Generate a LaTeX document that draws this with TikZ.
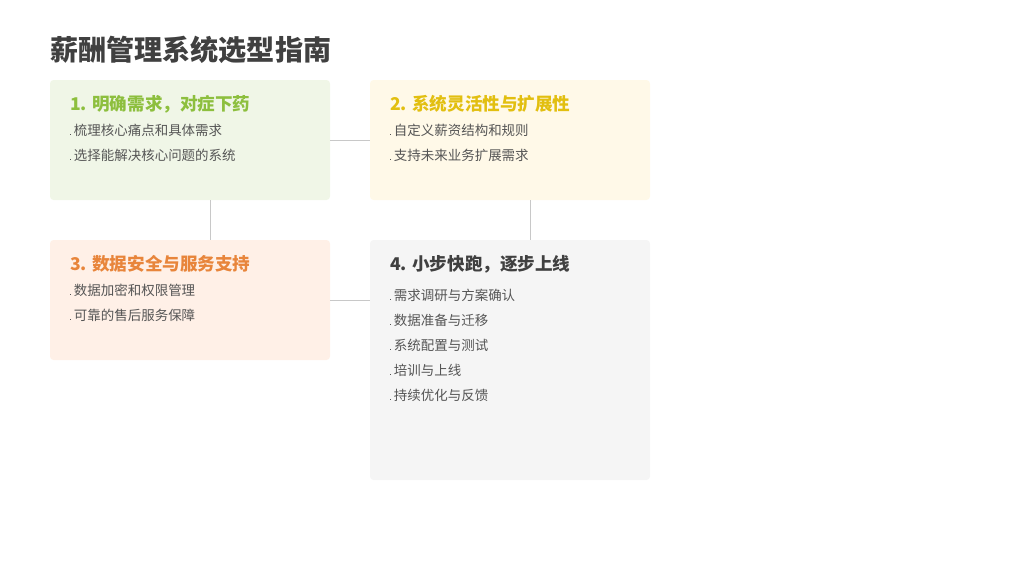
\documentclass[tikz,border=0pt]{standalone}
\usepackage{fontspec}
\setmainfont{Noto Sans CJK SC}
\newfontfamily\cjkbold[BoldFont={* Bold}]{Noto Sans CJK SC}
\usetikzlibrary{positioning}
\definecolor{titlegray}{HTML}{404040}
\definecolor{textgray}{HTML}{555555}
\definecolor{linegray}{HTML}{C8C8C8}
\definecolor{cgreen}{HTML}{8DBF3E}
\definecolor{cyellow}{HTML}{E2BF10}
\definecolor{corange}{HTML}{E8853B}
\definecolor{fgreen}{HTML}{F0F6E7}
\definecolor{fyellow}{HTML}{FFF9E8}
\definecolor{forange}{HTML}{FFF0E7}
\definecolor{fgray}{HTML}{F5F5F5}
\newcommand{\tofu}{\raisebox{0.1ex}{\tikz\draw[textgray,line width=0.3pt] (0,0) rectangle (0.1,0.25);}\hspace{0.25em}}
\begin{document}
\begin{tikzpicture}[x=0.03cm,y=-0.03cm,
        card/.style={rounded corners=3pt, draw=none, anchor=north west},
        head/.style={anchor=west, font=\fontsize{15}{18}\selectfont\bfseries},
        item/.style={anchor=west, text=textgray, font=\fontsize{11.5}{14}\selectfont},
        link/.style={draw=linegray, line width=0.8pt}
    ]
        \useasboundingbox (0,0) rectangle (1024,576);
        \node[anchor=west, text=titlegray, font=\fontsize{24}{28}\selectfont\bfseries] (title) at (46,50) {薪酬管理系统选型指南};

        \fill[fgreen, rounded corners=3pt] (50,80) rectangle (330,200);
        \fill[fyellow, rounded corners=3pt] (370,80) rectangle (650,200);
        \fill[forange, rounded corners=3pt] (50,240) rectangle (330,360);
        \fill[fgray, rounded corners=3pt] (370,240) rectangle (650,480);
        \coordinate (c1r) at (330,140); \coordinate (c2l) at (370,140);
        \coordinate (c1b) at (210,200); \coordinate (c3t) at (210,240);
        \coordinate (c2b) at (530,200); \coordinate (c4t) at (530,240);
        \coordinate (c3r) at (330,300); \coordinate (c4l) at (370,300);

        \node[head, text=cgreen] (h1) at (66,104) {1. 明确需求，对症下药};
        \node[item] (a1) at (66,130) {\tofu 梳理核心痛点和具体需求};
        \node[item] (a2) at (66,155) {\tofu 选择能解决核心问题的系统};

        \node[head, text=cyellow] (h2) at (386,104) {2. 系统灵活性与扩展性};
        \node[item] (b1) at (386,130) {\tofu 自定义薪资结构和规则};
        \node[item] (b2) at (386,155) {\tofu 支持未来业务扩展需求};

        \node[head, text=corange] (h3) at (66,264) {3. 数据安全与服务支持};
        \node[item] (d1) at (66,290) {\tofu 数据加密和权限管理};
        \node[item] (d2) at (66,315) {\tofu 可靠的售后服务保障};

        \node[head, text=titlegray] (h4) at (386,264) {4. 小步快跑，逐步上线};
        \node[item] (e1) at (386,295) {\tofu 需求调研与方案确认};
        \node[item] (e2) at (386,320) {\tofu 数据准备与迁移};
        \node[item] (e3) at (386,345) {\tofu 系统配置与测试};
        \node[item] (e4) at (386,370) {\tofu 培训与上线};
        \node[item] (e5) at (386,395) {\tofu 持续优化与反馈};

        \draw[link] (c1r) -- (c2l);
        \draw[link] (c1b) -- (c3t);
        \draw[link] (c2b) -- (c4t);
        \draw[link] (c3r) -- (c4l);
    \end{tikzpicture}
\end{document}
